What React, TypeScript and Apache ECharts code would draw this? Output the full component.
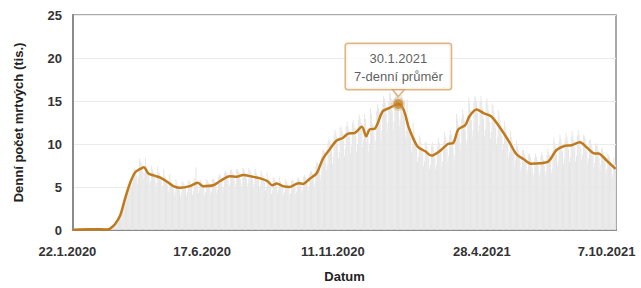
import React, { useEffect, useRef } from 'react';
import * as echarts from 'echarts';

// ---- data (thousands of deaths per day) ----
const startDay = { y: 2020, m: 1, d: 22 };
const tickLabels = ['22.1.2020', '17.6.2020', '11.11.2020', '28.4.2021', '7.10.2021'];

// daily reported deaths (tis.), one row per week starting on Wednesday 22.1.2020
const dailyDeaths: number[] = [
  0, 0, 0, 0, 0, 0.1, 0.1,
  0, 0.1, 0, 0.1, 0, 0.1, 0.1,
  0.1, 0.3, 0.1, 0.1, 0.1, 0.1, 0.1,
  0.1, 0.1, 0.1, 0.1, 0.1, 0.1, 0.1,
  0.1, 0.1, 0.1, 0, 0, 0.1, 0.1,
  0.1, 0.1, 0.1, 0.1, 0, 0.1, 0.1,
  0.2, 0.3, 0.3, 0.4, 0.4, 0.6, 0.7,
  0.8, 0.9, 1.1, 1.4, 1.6, 1.8, 2.2,
  2.5, 2.8, 3.1, 3.4, 3.6, 4.0, 4.7,
  4.9, 5.3, 5.9, 5.7, 4.9, 5.5, 6.6,
  7.2, 7.1, 7.0, 6.3, 5.3, 6.2, 8.3,
  8.0, 7.8, 7.6, 6.8, 5.9, 6.6, 8.4,
  7.4, 7.1, 6.9, 6.2, 5.2, 5.7, 7.5,
  7.0, 6.8, 6.6, 5.9, 4.9, 5.5, 7.4,
  6.7, 6.6, 6.3, 5.8, 4.7, 5.2, 7.1,
  6.3, 6.1, 5.8, 5.3, 4.4, 4.8, 6.5,
  5.7, 5.5, 5.3, 4.9, 4.0, 4.4, 5.9,
  5.5, 5.3, 5.1, 4.7, 3.9, 4.3, 5.6,
  5.6, 5.4, 5.2, 4.8, 4.0, 4.4, 5.7,
  5.8, 5.6, 5.4, 5.0, 4.1, 4.5, 6.0,
  6.0, 7.3, 5.6, 5.1, 4.3, 4.7, 5.9,
  5.7, 5.5, 5.3, 4.9, 4.0, 4.4, 5.9,
  5.8, 5.6, 5.4, 4.9, 4.1, 4.5, 5.9,
  6.0, 5.8, 5.6, 5.2, 4.3, 4.7, 6.2,
  6.5, 6.3, 6.0, 5.5, 4.6, 5.0, 6.7,
  6.9, 6.7, 6.4, 5.9, 4.9, 5.3, 7.0,
  7.0, 6.7, 6.5, 5.9, 4.9, 5.4, 7.1,
  7.1, 6.8, 6.6, 6.0, 5.0, 5.4, 7.2,
  7.1, 6.9, 6.6, 6.0, 5.0, 5.5, 7.2,
  7.0, 6.7, 6.4, 5.9, 4.9, 5.4, 7.1,
  6.8, 6.5, 6.3, 5.8, 4.8, 5.2, 6.9,
  6.5, 6.3, 6.0, 5.5, 4.6, 5.0, 6.7,
  6.0, 5.8, 5.6, 5.1, 4.2, 4.6, 6.1,
  6.1, 5.8, 5.6, 5.1, 4.3, 4.7, 6.2,
  5.7, 5.5, 5.3, 4.9, 4.0, 4.4, 5.9,
  5.6, 5.4, 5.2, 4.8, 4.0, 4.3, 5.7,
  5.9, 5.7, 5.5, 5.0, 4.2, 4.5, 6.0,
  6.1, 5.8, 5.6, 5.1, 4.3, 4.7, 6.2,
  6.4, 6.2, 5.9, 5.4, 4.5, 4.9, 6.6,
  6.9, 6.8, 6.6, 6.0, 5.0, 5.4, 7.4,
  7.9, 7.8, 7.6, 7.0, 5.8, 6.4, 8.6,
  9.4, 9.3, 9.1, 8.4, 6.9, 7.6, 10.2,
  10.6, 10.4, 10.1, 9.3, 7.7, 8.5, 11.0,
  11.7, 11.3, 10.9, 10.0, 8.3, 9.1, 11.9,
  12.1, 11.6, 11.3, 10.4, 8.6, 9.5, 12.1,
  12.6, 12.1, 11.7, 10.8, 8.9, 9.8, 12.5,
  12.8, 12.3, 11.9, 10.9, 9.1, 10.0, 12.8,
  13.4, 13.0, 12.5, 11.5, 9.6, 10.5, 13.5,
  12.9, 10.2, 11.8, 10.9, 9.0, 10.1, 14.2,
  13.5, 12.4, 12.2, 11.0, 9.3, 10.4, 13.8,
  14.6, 14.2, 13.7, 12.6, 10.4, 11.5, 14.7,
  15.6, 15.3, 14.8, 13.6, 11.4, 12.4, 14.9,
  16.0, 15.8, 15.3, 13.9, 11.6, 12.6, 15.3,
  16.2, 16.0, 15.6, 14.2, 12.0, 12.9, 15.7,
  15.7, 14.8, 14.2, 12.9, 10.8, 11.6, 15.2,
  13.2, 12.5, 11.9, 10.8, 9.1, 9.8, 12.5,
  11.4, 10.8, 10.3, 9.4, 7.9, 8.5, 11.0,
  10.7, 10.2, 9.7, 8.9, 7.4, 8.0, 10.2,
  10.2, 9.7, 9.2, 8.4, 7.1, 7.6, 9.8,
  10.2, 9.7, 9.2, 8.4, 7.1, 7.6, 9.7,
  10.7, 10.2, 9.7, 8.9, 7.4, 8.0, 10.2,
  11.4, 10.9, 10.4, 9.5, 7.9, 8.6, 11.0,
  11.6, 11.1, 10.5, 9.6, 8.1, 8.7, 11.1,
  13.5, 12.9, 12.2, 11.2, 9.4, 10.1, 13.0,
  14.0, 13.4, 12.7, 11.6, 9.8, 10.5, 13.4,
  15.4, 14.8, 14.0, 12.8, 10.8, 11.6, 14.8,
  15.6, 15.4, 14.9, 13.6, 11.4, 12.2, 14.9,
  15.6, 14.9, 14.2, 12.9, 10.9, 11.7, 15.0,
  15.3, 14.6, 13.9, 12.6, 10.6, 11.4, 14.7,
  14.4, 13.8, 13.1, 11.9, 10.0, 10.8, 13.9,
  13.3, 12.8, 12.1, 11.0, 9.3, 10.0, 12.7,
  12.1, 11.5, 11.0, 10.0, 8.4, 9.0, 11.5,
  10.8, 10.3, 9.8, 8.9, 7.5, 8.1, 10.4,
  9.8, 9.3, 8.9, 8.1, 6.8, 7.3, 9.3,
  9.3, 8.9, 8.5, 7.7, 6.5, 7.0, 8.8,
  8.9, 8.5, 8.0, 7.3, 6.2, 6.6, 8.4,
  8.9, 8.5, 8.1, 7.4, 6.2, 6.7, 8.5,
  9.1, 8.7, 8.2, 7.5, 6.3, 6.8, 8.7,
  9.5, 9.1, 8.7, 7.9, 6.6, 7.1, 9.2,
  10.7, 10.2, 9.7, 8.8, 7.4, 8.0, 10.3,
  11.1, 10.6, 10.1, 9.2, 7.7, 8.3, 10.6,
  11.3, 10.8, 10.3, 9.4, 7.9, 8.5, 10.8,
  11.5, 11.0, 10.4, 9.5, 8.0, 8.6, 11.0,
  11.6, 11.1, 10.5, 9.6, 8.1, 8.7, 11.1,
  11.0, 10.6, 10.0, 9.1, 7.7, 8.3, 10.5,
  10.5, 10.0, 9.5, 8.6, 7.3, 7.8, 10.0,
  10.1, 9.7, 9.2, 8.4, 7.0, 7.6, 9.6,
  9.4, 9.0, 8.6, 7.8, 6.6, 7.1, 8.9,
  8.7, 8.4, 7.9, 7.2, 6.1, 6.5, 8.4,
  7.9, 7.6,
];

// 7-day average (tis.), read at dates
const avg7Points: [string, number][] = [
  ['22.1.2020', 0.03], ['11.2.2020', 0.08], ['1.3.2020', 0.07], ['4.3.2020', 0.15],
  ['10.3.2020', 0.7], ['16.3.2020', 1.75], ['21.3.2020', 3.5], ['27.3.2020', 5.4],
  ['2.4.2020', 6.7], ['8.4.2020', 7.1], ['12.4.2020', 7.3], ['17.4.2020', 6.6],
  ['23.4.2020', 6.35], ['1.5.2020', 6.1], ['9.5.2020', 5.6], ['16.5.2020', 5.1],
  ['24.5.2020', 4.9], ['4.6.2020', 5.1], ['10.6.2020', 5.4], ['13.6.2020', 5.5],
  ['19.6.2020', 5.1], ['1.7.2020', 5.2], ['9.7.2020', 5.7], ['20.7.2020', 6.25],
  ['28.7.2020', 6.2], ['4.8.2020', 6.4], ['15.8.2020', 6.2], ['24.8.2020', 6.0],
  ['1.9.2020', 5.7], ['7.9.2020', 5.2], ['12.9.2020', 5.4], ['19.9.2020', 5.1],
  ['27.9.2020', 5.0], ['7.10.2020', 5.45], ['12.10.2020', 5.35], ['20.10.2020', 5.95],
  ['28.10.2020', 6.6], ['4.11.2020', 8.25], ['12.11.2020', 9.4], ['20.11.2020', 10.4],
  ['27.11.2020', 10.7], ['3.12.2020', 11.2], ['11.12.2020', 11.3], ['19.12.2020', 12.0],
  ['24.12.2020', 10.9], ['28.12.2020', 11.7], ['3.1.2021', 11.8], ['12.1.2021', 13.8],
  ['20.1.2021', 14.2], ['30.1.2021', 14.65], ['5.2.2021', 14.0], ['11.2.2021', 11.9],
  ['21.2.2021', 9.7], ['2.3.2021', 9.15], ['9.3.2021', 8.65], ['19.3.2021', 9.2],
  ['28.3.2021', 10.0], ['3.4.2021', 10.1], ['9.4.2021', 11.7], ['17.4.2021', 12.2],
  ['22.4.2021', 13.25], ['30.4.2021', 14.0], ['8.5.2021', 13.6], ['17.5.2021', 13.2],
  ['27.5.2021', 11.9], ['6.6.2021', 10.35], ['15.6.2021', 8.8], ['23.6.2021', 8.25],
  ['2.7.2021', 7.7], ['12.7.2021', 7.75], ['22.7.2021', 8.0], ['31.7.2021', 9.3],
  ['10.8.2021', 9.8], ['17.8.2021', 9.85], ['27.8.2021', 10.2], ['4.9.2021', 9.6],
  ['13.9.2021', 8.9], ['17.9.2021', 8.9], ['27.9.2021', 8.05], ['7.10.2021', 7.1],
];

const highlightDate = '30.1.2021';
const highlightText = ['30.1.2021', '7-denní průměr'];
const yAxisName = 'Denní počet mrtvých (tis.)';
const xAxisName = 'Datum';

function buildDates(n: number): string[] {
  const out: string[] = [];
  const d = new Date(Date.UTC(startDay.y, startDay.m - 1, startDay.d));
  for (let i = 0; i < n; i++) {
    out.push(`${d.getUTCDate()}.${d.getUTCMonth() + 1}.${d.getUTCFullYear()}`);
    d.setUTCDate(d.getUTCDate() + 1);
  }
  return out;
}

const FONT = '"Liberation Sans", Arial, Helvetica, sans-serif';
const LINE_COLOR = '#c07a1b';
const BOX_BORDER = '#d4a467';

export default function App() {
  const ref = useRef<HTMLDivElement>(null);
  useEffect(() => {
    if (!ref.current) return;
    const chart = echarts.init(ref.current, undefined, { renderer: 'svg' });
    const dates = buildDates(dailyDeaths.length);
    const idxOf = (s: string) => dates.indexOf(s);
    const tickIdx = tickLabels.map(idxOf);
    const linePts = avg7Points.map(([d, v]) => [idxOf(d), v]);
    const hIdx = idxOf(highlightDate);
    const hVal = avg7Points.find((p) => p[0] === highlightDate)![1];

    const base = { fontFamily: FONT, fontSize: 13, fontWeight: 'bold' as const, color: '#333' };
    const shifts = [[0, 12, 0, 0], [0, 0, 0, 2], [0, 0, 0, 8], [0, 0, 0, 14], [0, 18, 0, 0]];
    const rich: Record<string, any> = {};
    shifts.forEach((p, i) => { rich['t' + i] = { ...base, padding: p }; });

    chart.setOption({
      animation: false,
      textStyle: { fontFamily: FONT },
      grid: {
        left: 73, right: 25, top: 15, bottom: 54,
        show: true, borderColor: '#8f8f8f', borderWidth: 1.5, backgroundColor: 'transparent',
      },
      xAxis: {
        type: 'category',
        data: dates,
        boundaryGap: true,
        name: xAxisName,
        nameLocation: 'middle',
        nameGap: 40,
        nameTextStyle: { ...base, color: '#222' },
        axisLine: { show: true, lineStyle: { color: '#8a8a8a', width: 2 } },
        axisTick: { show: false },
        splitLine: { show: false },
        axisLabel: {
          interval: (i: number) => tickIdx.includes(i),
          formatter: (v: string) => `{t${tickLabels.indexOf(v)}|${v}}`,
          rich,
          margin: 15,
          ...base,
        },
      },
      yAxis: {
        type: 'value',
        min: 0, max: 25, interval: 5,
        name: yAxisName,
        nameLocation: 'middle',
        nameGap: 48,
        nameTextStyle: { ...base, color: '#222' },
        axisLine: { show: true, lineStyle: { color: '#8a8a8a', width: 2 } },
        axisTick: { show: false },
        axisLabel: { ...base, margin: 11 },
        splitLine: { lineStyle: { color: '#ebebeb', width: 1 } },
      },
      series: [
        {
          type: 'bar',
          data: dailyDeaths,
          barCategoryGap: '8%',
          itemStyle: { color: '#e6e6e6' },
          silent: true,
          z: 1,
        },
        {
          type: 'line',
          data: linePts,
          smooth: 0.3,
          showSymbol: false,
          symbol: 'none',
          lineStyle: { color: LINE_COLOR, width: 2.5 },
          z: 3,
          silent: true,
        },
        {
          type: 'scatter',
          data: [[hIdx, hVal]],
          symbol: 'triangle',
          symbolRotate: 180,
          symbolSize: [12, 7],
          symbolOffset: [0, -11],
          itemStyle: { color: '#fff', borderColor: BOX_BORDER, borderWidth: 1.5 },
          z: 4,
          silent: true,
        },
        {
          type: 'scatter',
          data: [[hIdx, hVal]],
          symbol: 'circle',
          symbolSize: 10,
          itemStyle: { color: LINE_COLOR, borderColor: 'rgba(212,164,103,0.45)', borderWidth: 4 },
          z: 5,
          silent: true,
          label: {
            show: true,
            position: 'top',
            distance: 8,
            formatter: highlightText.join('\n'),
            fontFamily: FONT,
            fontSize: 13,
            lineHeight: 18,
            color: '#333',
            backgroundColor: '#fff',
            borderColor: BOX_BORDER,
            borderWidth: 1.5,
            borderRadius: 2,
            padding: [5, 8, 4, 8],
          },
        },
      ],
    });
    return () => chart.dispose();
  }, []);
  return (
    <div
      ref={ref}
      style={{ width: 641, height: 288, position: 'fixed', left: 0, top: 0, background: '#fff' }}
    />
  );
}
